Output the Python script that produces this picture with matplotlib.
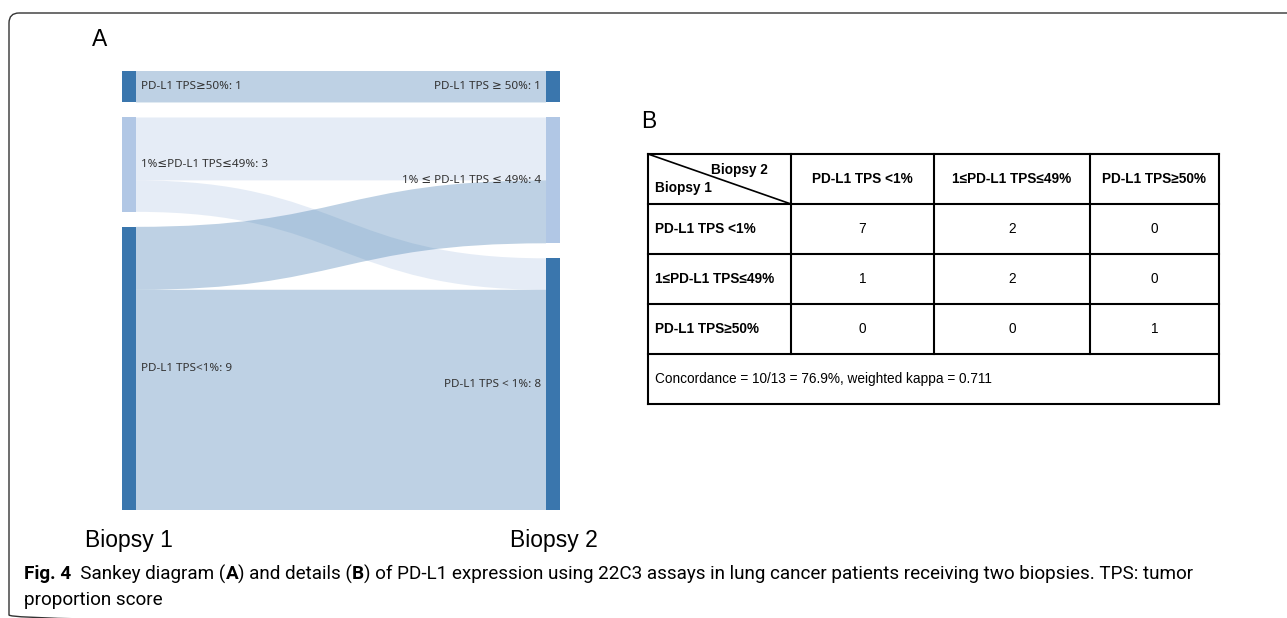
import matplotlib.pyplot as plt
from matplotlib.path import Path
from matplotlib.patches import PathPatch, Rectangle, FancyBboxPatch
import numpy as np

# PD-L1 categories as listed in the table (biopsy 1 rows, biopsy 2 columns)
table_rows = ['PD-L1 TPS <1%', '1≤PD-L1 TPS≤49%', 'PD-L1 TPS≥50%']
table_cols = ['PD-L1 TPS <1%', '1≤PD-L1 TPS≤49%', 'PD-L1 TPS≥50%']
table_counts = np.array([[7, 2, 0],
                         [1, 2, 0],
                         [0, 0, 1]])
summary = 'Concordance = 10/13 = 76.9%, weighted kappa = 0.711'

# sankey nodes, top to bottom
left_names = ['PD-L1 TPS≥50%', '1%≤PD-L1 TPS≤49%', 'PD-L1 TPS<1%']
right_names = ['PD-L1 TPS ≥ 50%', '1% ≤ PD-L1 TPS ≤ 49%', 'PD-L1 TPS < 1%']
node_colors = ['#3a76ad', '#b1c7e5', '#3a76ad']

caption = [('Fig. 4', 'bold'), ('  Sankey diagram (', 'normal'), ('A', 'bold'),
           (') and details (', 'normal'), ('B', 'bold'),
           (') of PD-L1 expression using 22C3 assays in lung cancer patients '
            'receiving two biopsies. TPS: tumor', 'normal')]
caption2 = 'proportion score'

fig = plt.figure(figsize=(12.87, 6.18), dpi=100)
ax = fig.add_axes([0, 0, 1, 1])
ax.set_xlim(0, 1287)
ax.set_ylim(618, 0)
ax.axis('off')

# page frame
ax.add_patch(FancyBboxPatch((9, 13), 1400, 612, boxstyle='round,pad=0,rounding_size=10',
                            fill=False, ec='#333333', lw=1.0, clip_on=True))

sans = ['Noto Sans', 'DejaVu Sans']

# ---- A: sankey ----
counts = table_counts[::-1, ::-1]
left_tot = counts.sum(axis=1)
right_tot = counts.sum(axis=0)
top, bottom, gap = 71, 510, 15
unit = (bottom - top - 2 * gap) / counts.sum()
xl0, xl1 = 122, 136
xr0, xr1 = 546, 560


def node_tops(tot):
    ys = []
    y = top
    for t in tot:
        ys.append(y)
        y += t * unit + gap
    return ys


ltop = node_tops(left_tot)
rtop = node_tops(right_tot)

loff = list(ltop)
roff = list(rtop)
xm = (xl1 + xr0) / 2
for i in range(3):
    for j in range(3):
        v = counts[i, j]
        if v == 0:
            continue
        h = v * unit
        a0, a1 = loff[i], loff[i] + h
        b0, b1 = roff[j], roff[j] + h
        loff[i] += h
        roff[j] += h
        verts = [(xl1, a0), (xm, a0), (xm, b0), (xr0, b0), (xr0, b1),
                 (xm, b1), (xm, a1), (xl1, a1), (xl1, a0)]
        codes = [Path.MOVETO, Path.CURVE4, Path.CURVE4, Path.CURVE4, Path.LINETO,
                 Path.CURVE4, Path.CURVE4, Path.CURVE4, Path.CLOSEPOLY]
        ax.add_patch(PathPatch(Path(verts, codes), fc=node_colors[i], ec='none',
                               alpha=0.33, zorder=1))

for k in range(3):
    hl = left_tot[k] * unit
    hr = right_tot[k] * unit
    ax.add_patch(Rectangle((xl0, ltop[k]), xl1 - xl0, hl, fc=node_colors[k], ec='none', zorder=2))
    ax.add_patch(Rectangle((xr0, rtop[k]), xr1 - xr0, hr, fc=node_colors[k], ec='none', zorder=2))
    ax.text(xl1 + 5, ltop[k] + hl / 2, f'{left_names[k]}: {left_tot[k]}', ha='left',
            va='center', fontsize=8.4, family=sans, color='#333333', zorder=3)
    ax.text(xr0 - 5, rtop[k] + hr / 2, f'{right_names[k]}: {right_tot[k]}', ha='right',
            va='center', fontsize=8.4, family=sans, color='#333333', zorder=3)

ax.text(129, 541, 'Biopsy 1', ha='center', va='center', fontsize=16.5,
        family=['Liberation Sans', 'DejaVu Sans'])
ax.text(554, 541, 'Biopsy 2', ha='center', va='center', fontsize=16.5,
        family=['Liberation Sans', 'DejaVu Sans'])
ax.text(92, 40, 'A', ha='left', va='center', fontsize=16.5, family=['Liberation Sans'])
ax.text(641, 121, 'B', ha='left', va='center', fontsize=16.5, family=['Liberation Sans'])

# ---- B: concordance table ----
cx = [648, 791, 934, 1090, 1219]
ry = [154, 204, 254, 304, 354, 404]
tf = ['Liberation Sans', 'DejaVu Sans']
lw = 1.5
for y in ry:
    ax.plot([cx[0], cx[-1]], [y, y], color='black', lw=lw, solid_capstyle='projecting')
for k, x in enumerate(cx):
    yend = ry[-1] if k in (0, len(cx) - 1) else ry[-2]
    ax.plot([x, x], [ry[0], yend], color='black', lw=lw, solid_capstyle='projecting')
ax.plot([cx[0], cx[1]], [ry[0], ry[1]], color='black', lw=1.2)
ax.text(768, 170, 'Biopsy 2', ha='right', va='center', fontsize=9.8, fontweight='bold', family=tf)
ax.text(655, 188, 'Biopsy 1', ha='left', va='center', fontsize=9.8, fontweight='bold', family=tf)

for j, name in enumerate(table_cols):
    ax.text((cx[j + 1] + cx[j + 2]) / 2, (ry[0] + ry[1]) / 2, name, ha='center',
            va='center', fontsize=9.8, fontweight='bold', family=tf)
for i, name in enumerate(table_rows):
    yc = (ry[i + 1] + ry[i + 2]) / 2
    ax.text(655, yc, name, ha='left', va='center', fontsize=9.8, fontweight='bold', family=tf)
    for j in range(3):
        ax.text((cx[j + 1] + cx[j + 2]) / 2, yc, str(table_counts[i, j]), ha='center',
                va='center', fontsize=9.8, family=tf)
ax.text(655, (ry[-2] + ry[-1]) / 2, summary, ha='left', va='center', fontsize=9.8, family=tf)

# ---- caption ----
cf = ['Roboto', 'DejaVu Sans']
renderer = fig.canvas.get_renderer()
x = 24
for s, w in caption:
    t = ax.text(x, 574, s, ha='left', va='center', fontsize=13.6, fontweight=w, family=cf)
    x += t.get_window_extent(renderer=renderer).width
ax.text(24, 600, caption2, ha='left', va='center', fontsize=13.6, family=cf)

fig.savefig('out.png', dpi=100, facecolor='white')
